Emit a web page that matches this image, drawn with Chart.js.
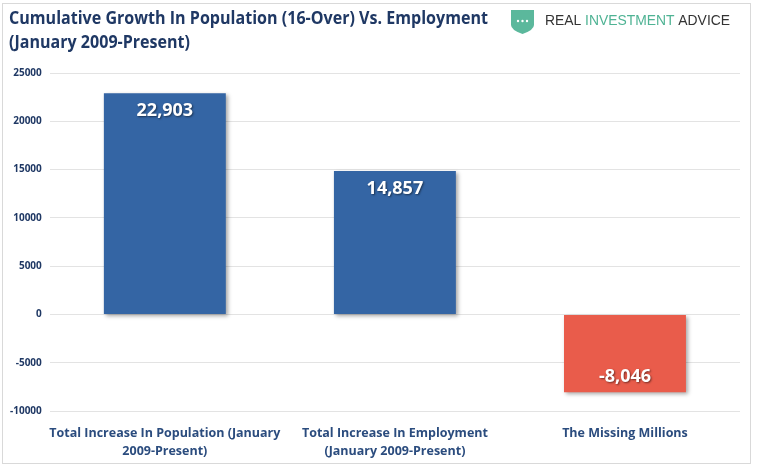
<!DOCTYPE html>
<html>
<head>
<meta charset="utf-8">
<script src="https://cdn.jsdelivr.net/npm/chart.js@4.4.0/dist/chart.umd.min.js"></script>
<style>
  html, body { margin: 0; padding: 0; background: #fff; }
  #wrap { position: relative; width: 757px; height: 469px; }
  #frame { position: absolute; left: 2px; top: 3px; width: 749px; height: 461px; border: 1px solid #D9D9D9; box-sizing: border-box; }
</style>
</head>
<body>
<div id="wrap">
  <div id="frame"></div>
  <canvas id="growthChart" width="757" height="469"></canvas>
</div>
<script>
const categories = [
    ['Total Increase In Population (January', '2009-Present)'],
    ['Total Increase In Employment', '(January 2009-Present)'],
    ['The Missing Millions']
];
const values = [22903, 14857, -8046];
const barColors = ['#3465A4', '#3465A4', '#E95C4B'];
const yTicks = [-10000, -5000, 0, 5000, 10000, 15000, 20000, 25000];

const bodyFont = '"Open Sans", "Liberation Sans", sans-serif';

// draw text squeezed to a given width (the original uses a narrow font)
function narrowText(c, text, x, y, width) {
    const w = c.measureText(text).width;
    c.save();
    c.translate(x, y);
    c.scale(Math.min(1, width / w), 1);
    c.fillText(text, 0, 0);
    c.restore();
}

// title + logo in the header
const headerPlugin = {
    id: 'header',
    afterDraw(chart) {
        const c = chart.ctx;
        c.save();
        c.fillStyle = '#1F3864';
        c.font = 'bold 17px ' + bodyFont;
        c.textBaseline = 'middle';
        narrowText(c, 'Cumulative Growth In Population (16-Over) Vs. Employment', 9, 19, 479);
        narrowText(c, '(January 2009-Present)', 9, 43, 181);

        // shield icon
        c.fillStyle = '#5BB89C';
        c.beginPath();
        c.moveTo(511, 10);
        c.lineTo(534, 10);
        c.lineTo(534, 25);
        c.quadraticCurveTo(534, 30, 522.5, 34);
        c.quadraticCurveTo(511, 30, 511, 25);
        c.closePath();
        c.fill();
        c.fillStyle = '#fff';
        [518, 522.5, 527].forEach(x => {
            c.beginPath();
            c.arc(x, 21, 1.2, 0, Math.PI * 2);
            c.fill();
        });

        c.font = '14px "Liberation Sans", Arial, sans-serif';
        let x = 545;
        const parts = [['REAL ', '#333'], ['INVESTMENT', '#4FB394'], [' ADVICE', '#333']];
        const total = parts.reduce((s, p) => s + c.measureText(p[0]).width, 0);
        const k = 185 / total;
        parts.forEach(p => {
            c.fillStyle = p[1];
            const w = c.measureText(p[0]).width * k;
            narrowText(c, p[0], x, 21, w);
            x += w;
        });
        c.restore();
    }
};

// shadow on bars + value labels
const barLabelPlugin = {
    id: 'barLabels',
    beforeDatasetDraw(chart) {
        const c = chart.ctx;
        c.save();
        c.shadowColor = 'rgba(0,0,0,0.35)';
        c.shadowBlur = 4;
        c.shadowOffsetX = 2;
        c.shadowOffsetY = 2;
    },
    afterDatasetDraw(chart) {
        chart.ctx.restore();
    },
    afterDatasetsDraw(chart) {
        const c = chart.ctx;
        const meta = chart.getDatasetMeta(0);
        c.save();
        c.font = 'bold 18px ' + bodyFont;
        c.fillStyle = '#fff';
        c.textAlign = 'center';
        c.textBaseline = 'middle';
        c.shadowColor = 'rgba(0,0,0,0.5)';
        c.shadowBlur = 2;
        c.shadowOffsetX = 1;
        c.shadowOffsetY = 1;
        meta.data.forEach((bar, i) => {
            const v = values[i];
            const y = v >= 0 ? bar.y + 18 : bar.y - 15;
            c.fillText(v.toLocaleString('en-US'), bar.x, y);
        });
        c.restore();
    }
};

new Chart(document.getElementById('growthChart').getContext('2d'), {
    type: 'bar',
    data: {
        labels: categories,
        datasets: [{
            data: values,
            backgroundColor: barColors,
            borderWidth: 0,
            categoryPercentage: 0.53,
            barPercentage: 1
        }]
    },
    options: {
        responsive: false,
        animation: false,
        layout: { padding: { top: 73, left: 2, right: 17, bottom: 0 } },
        plugins: {
            legend: { display: false },
            tooltip: { enabled: false }
        },
        scales: {
            x: {
                afterFit(axis) { axis.height = 58; },
                grid: { display: false },
                border: { display: false },
                ticks: {
                    color: '#2B4C7E',
                    font: { family: bodyFont, size: 12.5, weight: 'bold', lineHeight: 1.45 },
                    padding: 5,
                    maxRotation: 0,
                    autoSkip: false
                }
            },
            y: {
                min: -10000,
                max: 25000,
                afterBuildTicks(axis) {
                    axis.ticks = yTicks.map(v => ({ value: v }));
                },
                grid: { color: '#E3E3E3', drawTicks: false },
                border: { display: false },
                ticks: {
                    color: '#1F3864',
                    font: { family: bodyFont, size: 10, weight: 'bold' },
                    padding: 8,
                    callback: v => String(v)
                }
            }
        }
    },
    plugins: [headerPlugin, barLabelPlugin]
});
</script>
</body>
</html>
